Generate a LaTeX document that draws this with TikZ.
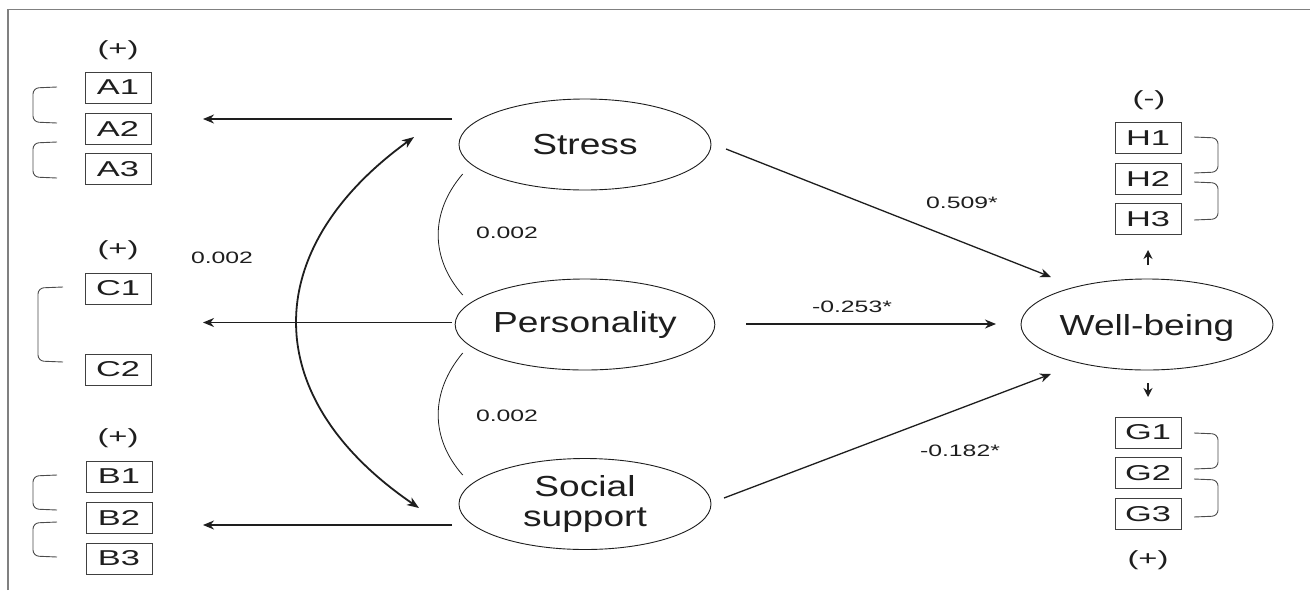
\documentclass[tikz,border=0pt]{standalone}
\usepackage{fontspec}
\setmainfont{Liberation Sans}
\newfontfamily\fbig{Liberation Sans}[FakeStretch=1.28]
\newfontfamily\fsml{Liberation Sans}[FakeStretch=1.5]
\newfontfamily\fitm{Liberation Sans}[FakeStretch=1.6]
\usetikzlibrary{shapes.geometric,arrows.meta}
\definecolor{ink}{RGB}{30,30,30}
\begin{document}
\begin{tikzpicture}[x=1pt,y=-1pt,
  lat/.style={ellipse,draw=ink,line width=0.9pt,minimum width=252pt,minimum height=91pt,inner sep=0pt,
    font=\fbig\fontsize{29}{32}\selectfont,text=ink,align=center},
  itm/.style={draw=ink!85,line width=0.9pt,minimum width=66pt,minimum height=31pt,inner sep=0pt,
    font=\fitm\fontsize{21.5}{22}\selectfont,text=ink},
  sgn/.style={font=\fitm\fontsize{20.5}{22}\selectfont,text=ink,inner sep=0pt},
  coef/.style={font=\fsml\fontsize{16.5}{18}\selectfont,text=ink,inner sep=0pt},
  arr/.style={draw=ink,line width=1.3pt,-{Stealth[length=11pt,width=9pt,inset=3.5pt]}},
  sarr/.style={draw=ink,line width=1.5pt,-{Stealth[length=9pt,width=9pt,inset=3pt]}},
  dbl/.style={draw=ink,line width=1.8pt,{Stealth[length=12pt,width=9pt,inset=3.5pt]}-{Stealth[length=12pt,width=9pt,inset=3.5pt]}},
  brk/.style={draw=ink!80,line width=0.9pt,rounded corners=6pt},
  cor/.style={draw=ink,line width=0.8pt}]
\useasboundingbox (0,0) rectangle (1310,590);
\fill[white] (0,0) rectangle (1310,590);
% frame
\draw[gray,line width=1.2pt] (8,590) -- (8,9.5) -- (1310,9.5);

% latent variables
\node[lat] (S) at (585,144.5) {Stress};
\node[lat] (P) at (585,324.5) {Personality};
\node[lat] (SS) at (585,504) {\raisebox{-2pt}{Social}\\support};
\node[lat,text depth=0pt] (W) at (1147,324.5) {Well-being};

% indicators left
\node[sgn] (sA) at (118,50) {(+)};
\node[itm] (A1) at (118,87.5) {A1};
\node[itm] (A2) at (118,128.5) {A2};
\node[itm] (A3) at (118,169) {A3};
\node[sgn] (sC) at (118,250) {(+)};
\node[itm] (C1) at (118,288.5) {C1};
\node[itm] (C2) at (118,369.5) {C2};
\node[sgn] (sB) at (118,438) {(+)};
\node[itm] (B1) at (119,476.5) {B1};
\node[itm] (B2) at (119,517.5) {B2};
\node[itm] (B3) at (119,558.5) {B3};

% indicators right
\node[sgn] (sH) at (1149,100) {(-)};
\node[itm] (H1) at (1148,138) {H1};
\node[itm] (H2) at (1148,178.5) {H2};
\node[itm] (H3) at (1148,219) {H3};
\node[itm] (G1) at (1148,432.5) {G1};
\node[itm] (G2) at (1148,473) {G2};
\node[itm] (G3) at (1148,514) {G3};
\node[sgn] (sG) at (1148,560) {(+)};

% brackets left
\draw[brk] (57,87) -- (33,88) -- (33,122) -- (57,123);
\draw[brk] (57,142) -- (33,143) -- (33,177) -- (57,178);
\draw[brk] (63,287) -- (38,288) -- (38,361) -- (63,362);
\draw[brk] (57,475) -- (33,476) -- (33,509) -- (57,510);
\draw[brk] (57,522) -- (33,523) -- (33,556) -- (57,557);
% brackets right
\draw[brk] (1194,137) -- (1218,138) -- (1218,172) -- (1194,173);
\draw[brk] (1194,182) -- (1218,183) -- (1218,219) -- (1194,220);
\draw[brk] (1194,433) -- (1218,434) -- (1218,468) -- (1194,469);
\draw[brk] (1194,479) -- (1218,480) -- (1218,516) -- (1194,517);

% coordinates for connector ends
\coordinate (sa0) at (452,119);   \coordinate (sa1) at (203,119);
\coordinate (pc0) at (452,322.5); \coordinate (pc1) at (203,322.5);
\coordinate (sb0) at (452,525);   \coordinate (sb1) at (203,525);
\coordinate (sw0) at (726,149);   \coordinate (sw1) at (1051,277);
\coordinate (pw0) at (746,324);   \coordinate (pw1) at (996,324);
\coordinate (bw0) at (724,498);   \coordinate (bw1) at (1051,374);
\coordinate (wu0) at (1148,265);  \coordinate (wu1) at (1148,250);
\coordinate (wd0) at (1148,383);  \coordinate (wd1) at (1148,397);
\coordinate (dS) at (414,137);    \coordinate (dB) at (419,508);
\coordinate (c1a) at (462.7,174); \coordinate (c1b) at (462.7,295);
\coordinate (c2a) at (462.7,353); \coordinate (c2b) at (462.7,475);

% measurement arrows
\draw[arr] (sa0) -- (sa1);
\draw[arr] (pc0) -- (pc1);
\draw[arr] (sb0) -- (sb1);
\draw[sarr] (wu0) -- (wu1);
\draw[sarr] (wd0) -- (wd1);

% structural arrows
\draw[arr] (sw0) -- (sw1);
\draw[arr] (pw0) -- (pw1);
\draw[arr] (bw0) -- (bw1);

% correlations
\draw[dbl] (dS) .. controls (258,250) and (258,398) .. (dB);
\draw[cor] (c1a) .. controls (430,212) and (430,258) .. (c1b);
\draw[cor] (c2a) .. controls (430,392) and (430,438) .. (c2b);

% coefficients
\node[coef] (k0) at (222,258) {0.002};
\node[coef] (k1) at (507,233) {0.002};
\node[coef] (k2) at (507,416) {0.002};
\node[coef] (k3) at (962,203) {0.509*};
\node[coef] (k4) at (852,307) {-0.253*};
\node[coef] (k5) at (960,451) {-0.182*};
\end{tikzpicture}
\end{document}
